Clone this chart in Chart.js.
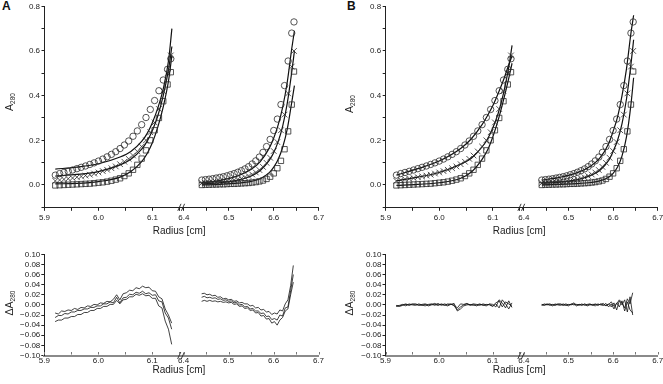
<!DOCTYPE html>
<html>
<head>
<meta charset="utf-8">
<script src="https://cdn.jsdelivr.net/npm/chart.js@4.4.0/dist/chart.umd.min.js"></script>
<style>
  body { margin: 0; background: #fff; width: 663px; height: 384px; position: relative; overflow: hidden; }
  .box { position: absolute; }
  .tag { position: absolute; font: bold 12px "Liberation Sans", Arial, sans-serif; line-height: 12px; color: #111; }
</style>
</head>
<body>
<div class="tag" style="left:2px;top:0px">A</div>
<div class="tag" style="left:347px;top:0px">B</div>
<div class="box" style="left:0;top:0"><canvas id="aTop" width="330" height="238"></canvas></div>
<div class="box" style="left:340px;top:0"><canvas id="bTop" width="333" height="238"></canvas></div>
<div class="box" style="left:0;top:240px"><canvas id="aRes" width="330" height="144"></canvas></div>
<div class="box" style="left:340px;top:240px"><canvas id="bRes" width="333" height="144"></canvas></div>
<script>
const FONT = '"Liberation Sans", Arial, sans-serif';

// scan radii (cm), left and right cell
const rLeft = [5.920, 5.928, 5.936, 5.944, 5.952, 5.960, 5.968, 5.976, 5.984, 5.992, 6.000, 6.008, 6.016, 6.024,
               6.032, 6.040, 6.048, 6.056, 6.064, 6.072, 6.080, 6.088, 6.096, 6.104, 6.112, 6.120, 6.128, 6.134];
const rRight = [6.440, 6.448, 6.456, 6.464, 6.472, 6.480, 6.488, 6.496, 6.504, 6.512, 6.520, 6.528, 6.536, 6.544,
                6.552, 6.560, 6.568, 6.576, 6.584, 6.592, 6.600, 6.608, 6.616, 6.624, 6.632, 6.640, 6.645];

// A280 data (same scans in A and B)
const circLeft  = [0.044, 0.051, 0.056, 0.061, 0.067, 0.073, 0.079, 0.085, 0.092, 0.099, 0.107, 0.116, 0.126, 0.137,
                   0.149, 0.163, 0.179, 0.197, 0.218, 0.242, 0.270, 0.302, 0.338, 0.378, 0.422, 0.470, 0.518, 0.565];
const crossLeft = [0.018, 0.022, 0.025, 0.028, 0.031, 0.035, 0.038, 0.042, 0.046, 0.051, 0.056, 0.062, 0.068, 0.075,
                   0.083, 0.093, 0.104, 0.117, 0.132, 0.150, 0.172, 0.200, 0.236, 0.280, 0.340, 0.420, 0.500, 0.580];
const sqLeft    = [-0.002, -0.001, 0.000, 0.001, 0.002, 0.003, 0.004, 0.005, 0.006, 0.008, 0.010, 0.012, 0.015, 0.019,
                   0.024, 0.030, 0.040, 0.052, 0.068, 0.090, 0.118, 0.155, 0.200, 0.245, 0.300, 0.375, 0.450, 0.505];
const circRight  = [0.022, 0.024, 0.026, 0.028, 0.031, 0.034, 0.037, 0.041, 0.046, 0.051, 0.057, 0.064, 0.072, 0.082,
                    0.094, 0.108, 0.125, 0.146, 0.172, 0.204, 0.244, 0.295, 0.360, 0.445, 0.555, 0.680, 0.730];
const crossRight = [0.008, 0.009, 0.010, 0.011, 0.012, 0.013, 0.015, 0.017, 0.019, 0.022, 0.025, 0.029, 0.034, 0.040,
                    0.047, 0.056, 0.067, 0.081, 0.099, 0.122, 0.152, 0.192, 0.245, 0.315, 0.410, 0.530, 0.600];
const sqRight    = [0.000, 0.001, 0.001, 0.002, 0.002, 0.003, 0.003, 0.004, 0.005, 0.005, 0.006, 0.007, 0.008, 0.009,
                    0.011, 0.013, 0.016, 0.020, 0.027, 0.037, 0.052, 0.075, 0.108, 0.160, 0.240, 0.360, 0.508];

// fitted curves
const fitLeftR  = [5.92, 5.96, 6.00, 6.04, 6.06, 6.08, 6.09, 6.10, 6.11, 6.12, 6.13, 6.136];
const fitRightR = [6.44, 6.48, 6.52, 6.55, 6.57, 6.59, 6.60, 6.61, 6.62, 6.63, 6.64, 6.646];
const aFitCircLeft   = [0.071, 0.080, 0.095, 0.125, 0.150, 0.195, 0.230, 0.280, 0.345, 0.430, 0.560, 0.700];
const aFitCrossLeft  = [0.040, 0.047, 0.060, 0.090, 0.115, 0.160, 0.195, 0.245, 0.310, 0.400, 0.520, 0.620];
const aFitSqLeft     = [0.005, 0.007, 0.015, 0.035, 0.060, 0.105, 0.140, 0.190, 0.260, 0.350, 0.470, 0.580];
const aFitCircRight  = [0.010, 0.020, 0.040, 0.070, 0.105, 0.165, 0.210, 0.270, 0.350, 0.460, 0.610, 0.690];
const aFitCrossRight = [0.005, 0.010, 0.022, 0.040, 0.065, 0.110, 0.145, 0.195, 0.265, 0.365, 0.505, 0.600];
const aFitSqRight    = [0.000, 0.003, 0.008, 0.016, 0.028, 0.055, 0.080, 0.115, 0.170, 0.250, 0.370, 0.445];
const bFitCircLeft   = [0.044, 0.073, 0.107, 0.163, 0.207, 0.270, 0.310, 0.355, 0.410, 0.470, 0.540, 0.578];
const bFitCrossLeft  = [0.018, 0.035, 0.056, 0.093, 0.120, 0.170, 0.205, 0.255, 0.320, 0.410, 0.530, 0.625];
const bFitSqLeft     = [-0.002, 0.003, 0.010, 0.030, 0.058, 0.115, 0.155, 0.215, 0.290, 0.380, 0.480, 0.545];
const bFitCircRight  = [0.022, 0.034, 0.055, 0.085, 0.120, 0.185, 0.240, 0.305, 0.400, 0.520, 0.680, 0.760];
const bFitCrossRight = [0.008, 0.013, 0.024, 0.043, 0.065, 0.110, 0.150, 0.200, 0.275, 0.385, 0.540, 0.650];
const bFitSqRight    = [0.000, 0.003, 0.006, 0.011, 0.018, 0.035, 0.052, 0.080, 0.130, 0.215, 0.360, 0.480];

// residuals
const resLeftR = [5.920, 5.926, 5.932, 5.938, 5.944, 5.950, 5.956, 5.962, 5.968, 5.974, 5.980, 5.986, 5.992,
                  5.998, 6.004, 6.010, 6.016, 6.022, 6.028, 6.034, 6.040, 6.046, 6.052, 6.058, 6.064, 6.070,
                  6.076, 6.082, 6.088, 6.094, 6.100, 6.106, 6.112, 6.118, 6.124, 6.130, 6.136];
const resRightR = [6.440, 6.446, 6.452, 6.458, 6.464, 6.470, 6.476, 6.482, 6.488, 6.494, 6.500, 6.506, 6.512,
                   6.518, 6.524, 6.530, 6.536, 6.542, 6.548, 6.554, 6.560, 6.566, 6.572, 6.578, 6.584, 6.590,
                   6.596, 6.602, 6.608, 6.614, 6.620, 6.626, 6.632, 6.638, 6.644];
const aResLeft1 = [-0.016, -0.018, -0.012, -0.013, -0.010, -0.011, -0.007, -0.009, -0.005, -0.006, -0.002, -0.003, 0.001,
                   0.000, 0.004, 0.003, 0.007, 0.006, 0.011, 0.020, 0.010, 0.022, 0.024, 0.029, 0.028, 0.034,
                   0.032, 0.037, 0.034, 0.035, 0.028, 0.027, 0.016, 0.012, -0.008, -0.020, -0.036];
const aResLeft2 = [-0.025, -0.021, -0.021, -0.017, -0.018, -0.014, -0.014, -0.011, -0.011, -0.008, -0.008, -0.005, -0.005,
                   -0.002, -0.002, 0.002, 0.002, 0.006, 0.004, 0.015, 0.004, 0.014, 0.015, 0.021, 0.020, 0.025,
                   0.023, 0.027, 0.022, 0.024, 0.019, 0.020, 0.008, 0.006, -0.016, -0.026, -0.048];
const aResLeft3 = [-0.033, -0.030, -0.030, -0.026, -0.026, -0.023, -0.023, -0.019, -0.019, -0.015, -0.015, -0.011, -0.011,
                   -0.007, -0.007, -0.003, -0.003, 0.001, 0.001, 0.009, 0.002, 0.010, 0.011, 0.016, 0.016, 0.021,
                   0.019, 0.022, 0.018, 0.019, 0.013, 0.013, -0.002, -0.006, -0.032, -0.048, -0.078];
const aResRight1 = [0.022, 0.023, 0.020, 0.021, 0.018, 0.019, 0.015, 0.016, 0.012, 0.013, 0.010, 0.011, 0.007,
                    0.008, 0.004, 0.005, 0.002, 0.002, -0.002, -0.001, -0.006, -0.005, -0.010, -0.009, -0.014, -0.013,
                    -0.019, -0.016, -0.018, -0.010, -0.012, 0.002, 0.010, 0.038, 0.078];
const aResRight2 = [0.015, 0.017, 0.014, 0.015, 0.013, 0.014, 0.011, 0.012, 0.009, 0.010, 0.007, 0.008, 0.004,
                    0.005, 0.000, 0.001, -0.004, -0.003, -0.008, -0.007, -0.012, -0.012, -0.017, -0.016, -0.023, -0.022,
                    -0.029, -0.027, -0.030, -0.020, -0.022, -0.006, -0.004, 0.028, 0.060];
const aResRight3 = [0.007, 0.009, 0.007, 0.009, 0.007, 0.008, 0.006, 0.007, 0.005, 0.006, 0.004, 0.005, 0.001,
                    0.002, -0.003, -0.002, -0.007, -0.006, -0.011, -0.010, -0.016, -0.015, -0.022, -0.021, -0.028, -0.027,
                    -0.036, -0.033, -0.040, -0.030, -0.025, -0.012, -0.008, 0.020, 0.045];
const bResLeft1 = [-0.002, -0.003, -0.001, 0.001, 0.000, 0.002, 0.001, -0.001, 0.001, 0.002, 0.000, 0.001, 0.003,
                   0.000, 0.001, -0.001, 0.002, 0.001, 0.000, -0.006, 0.002, 0.001, 0.003, 0.000, 0.002, 0.001,
                   -0.001, 0.002, 0.000, 0.001, -0.002, 0.004, 0.008, -0.004, 0.006, 0.002, -0.003];
const bResLeft2 = [-0.003, -0.001, 0.001, -0.002, 0.002, 0.000, -0.001, 0.002, 0.000, -0.002, 0.001, 0.002, -0.001,
                   0.003, -0.001, 0.002, 0.000, 0.002, -0.002, -0.010, -0.004, 0.000, 0.002, -0.001, 0.001, -0.002,
                   0.001, 0.000, -0.002, 0.002, 0.001, -0.004, 0.010, 0.004, -0.006, 0.008, -0.005];
const bResLeft3 = [-0.001, -0.002, 0.000, 0.002, -0.001, 0.001, 0.002, 0.000, -0.001, 0.001, -0.002, 0.000, 0.001,
                   -0.001, 0.002, 0.000, -0.002, 0.001, 0.003, -0.012, -0.008, -0.002, 0.000, 0.001, -0.001, 0.000,
                   0.002, -0.001, 0.001, 0.000, -0.003, 0.002, -0.006, 0.010, 0.002, -0.008, 0.004];
const bResRight1 = [0.001, 0.000, 0.002, -0.001, 0.001, 0.000, 0.002, 0.001, -0.001, 0.002, 0.000, 0.001, 0.004,
                    0.000, 0.001, -0.001, 0.002, 0.000, 0.001, -0.001, 0.002, 0.000, 0.001, 0.003, -0.002, 0.001,
                    0.006, -0.003, 0.002, 0.010, 0.004, -0.006, 0.012, 0.002, 0.024];
const bResRight2 = [-0.001, 0.002, 0.000, 0.001, -0.002, 0.002, 0.000, -0.001, 0.002, 0.000, -0.002, 0.002, 0.000,
                    0.001, -0.001, 0.002, -0.001, 0.001, 0.002, 0.000, -0.002, 0.002, 0.000, -0.001, 0.003, -0.004,
                    0.002, -0.008, 0.004, -0.004, 0.008, -0.012, 0.006, -0.010, -0.016];
const bResRight3 = [0.000, -0.001, 0.001, 0.002, 0.000, -0.001, 0.001, 0.002, 0.000, -0.001, 0.001, 0.000, 0.002,
                    -0.002, 0.001, 0.000, 0.001, -0.002, 0.000, 0.001, 0.001, -0.001, 0.002, 0.000, -0.001, 0.002,
                    -0.004, 0.004, -0.010, 0.008, 0.000, 0.010, -0.014, 0.016, -0.020];

function pts(xs, ys) {
  return xs.map((x, i) => ({x: x, y: ys[i]}));
}

function markers(xs, ys, style, r, axis) {
  return {
    data: pts(xs, ys), xAxisID: axis, showLine: false,
    pointStyle: style, pointRadius: r, pointBorderWidth: 0.8,
    pointBorderColor: '#2a2a2a', pointBackgroundColor: 'rgba(0,0,0,0)'
  };
}

function curve(xs, ys, axis, w, smooth) {
  return {
    data: pts(xs, ys), xAxisID: axis, showLine: true,
    borderColor: '#111', borderWidth: w, pointRadius: 0,
    cubicInterpolationMode: smooth ? 'monotone' : 'default', tension: 0
  };
}

function isTenth(v) {
  return Math.abs(v * 10 - Math.round(v * 10)) < 1e-6;
}

// axis break marks, axis titles, inner ticks of the residual plots
const decor = {
  id: 'decor',
  afterDraw(chart, args, o) {
    const ctx = chart.ctx, area = chart.chartArea;
    const xl = chart.scales.xL, xr = chart.scales.xR;
    const by = area.bottom;
    const bx = (xl.right + xr.left) / 2;
    ctx.save();
    ctx.strokeStyle = '#222';
    ctx.lineWidth = 0.9;
    [-2.2, 1.4].forEach(dx => {
      ctx.beginPath();
      ctx.moveTo(bx + dx - 1.6, by + 3.5);
      ctx.lineTo(bx + dx + 1.6, by - 3.5);
      ctx.stroke();
    });
    if (o.resid) {
      ctx.strokeStyle = '#777';
      ctx.lineWidth = 1;
      [xl, xr].forEach(s => s.ticks.forEach(t => {
        const px = Math.round(s.getPixelForValue(t.value)) + 0.5;
        ctx.beginPath();
        ctx.moveTo(px, by - 1);
        ctx.lineTo(px, by - 3.5);
        ctx.stroke();
      }));
    }
    ctx.fillStyle = '#222';
    ctx.textAlign = 'center';
    ctx.textBaseline = 'alphabetic';
    ctx.font = '10px ' + FONT;
    ctx.fillText('Radius [cm]', (area.left + area.right) / 2 - 2.5, o.titleY);

    ctx.translate(o.yx, o.yy);
    ctx.rotate(-Math.PI / 2);
    ctx.font = '10.5px ' + FONT;
    const w1 = ctx.measureText(o.label).width;
    ctx.font = '6.5px ' + FONT;
    const w2 = ctx.measureText('280').width;
    const x0 = -(w1 + w2) / 2;
    ctx.textAlign = 'left';
    ctx.textBaseline = 'middle';
    ctx.font = '10.5px ' + FONT;
    ctx.fillText(o.label, x0, 0);
    ctx.font = '6.5px ' + FONT;
    ctx.fillText('280', x0 + w1, 3.5);
    ctx.restore();
  }
};

function radiusAxis(min, max, resid, h) {
  return {
    type: 'linear', axis: 'x', position: 'bottom', stack: 'radius', stackWeight: 1,
    min: min, max: max,
    border: {color: resid ? '#8a8a8a' : '#222', width: resid ? 2 : 1},
    grid: {drawOnChartArea: false, drawTicks: !resid, tickLength: 3.5, color: '#222'},
    ticks: {
      stepSize: 0.05, includeBounds: false, autoSkip: false, maxRotation: 0,
      padding: resid ? 0 : 2, color: '#222', font: {size: 8, family: FONT},
      callback: v => isTenth(v) ? v.toFixed(1) : ''
    },
    afterFit: s => { s.height = h; }
  };
}

function absAxis(resid, w) {
  return {
    type: 'linear', position: 'left',
    min: -0.1, max: resid ? 0.1 : 0.8,
    border: {color: '#222', width: 1},
    grid: {drawOnChartArea: false, tickLength: 3, color: '#222'},
    ticks: {
      stepSize: resid ? 0.02 : 0.1, autoSkip: false, padding: resid ? 1 : 1.5,
      color: '#222', font: {size: 8, family: FONT},
      callback: v => {
        if (resid) return (Math.round(v * 100) / 100).toFixed(2).replace('-', '\u2212');
        const k = Math.round(v * 10);
        return (k >= 0 && k % 2 === 0) ? (k / 10).toFixed(1) : '';
      }
    },
    afterFit: s => { s.width = w; }
  };
}

function drawChart(id, o) {
  new Chart(document.getElementById(id), {
    type: 'scatter',
    data: {datasets: o.datasets},
    options: {
      responsive: false,
      animation: false,
      devicePixelRatio: 1,
      layout: {padding: o.padding},
      plugins: {legend: {display: false}, tooltip: {enabled: false}, decor: o.decor},
      scales: {
        xL: radiusAxis(5.9, 6.154, o.resid, o.xh),
        xR: radiusAxis(6.395, 6.7, o.resid, o.xh),
        y: absAxis(o.resid, o.yw)
      }
    },
    plugins: [decor]
  });
}

function dataMarks() {
  return [
    markers(rLeft, circLeft, 'circle', 3.2, 'xL'),
    markers(rLeft, crossLeft, 'crossRot', 4, 'xL'),
    markers(rLeft, sqLeft, 'rect', 3.8, 'xL'),
    markers(rRight, circRight, 'circle', 3.2, 'xR'),
    markers(rRight, crossRight, 'crossRot', 4, 'xR'),
    markers(rRight, sqRight, 'rect', 3.8, 'xR')
  ];
}

drawChart('aTop', {
  padding: {left: 0, top: 0, right: 11.3, bottom: 0}, xh: 30.7, yw: 44.5,
  decor: {titleY: 233.5, yx: 10, yy: 102, label: 'A'},
  datasets: dataMarks().concat([
    curve(fitLeftR, aFitCircLeft, 'xL', 1.2, true),
    curve(fitLeftR, aFitCrossLeft, 'xL', 1.2, true),
    curve(fitLeftR, aFitSqLeft, 'xL', 1.2, true),
    curve(fitRightR, aFitCircRight, 'xR', 1.2, true),
    curve(fitRightR, aFitCrossRight, 'xR', 1.2, true),
    curve(fitRightR, aFitSqRight, 'xR', 1.2, true)
  ])
});

drawChart('bTop', {
  padding: {left: 0, top: 0, right: 15.3, bottom: 0}, xh: 30.7, yw: 45.7,
  decor: {titleY: 233.5, yx: 10, yy: 104, label: 'A'},
  datasets: dataMarks().concat([
    curve(fitLeftR, bFitCircLeft, 'xL', 1.2, true),
    curve(fitLeftR, bFitCrossLeft, 'xL', 1.2, true),
    curve(fitLeftR, bFitSqLeft, 'xL', 1.2, true),
    curve(fitRightR, bFitCircRight, 'xR', 1.2, true),
    curve(fitRightR, bFitCrossRight, 'xR', 1.2, true),
    curve(fitRightR, bFitSqRight, 'xR', 1.2, true)
  ])
});

drawChart('aRes', {
  resid: true, padding: {left: 0, top: 14.3, right: 11.5, bottom: 0}, xh: 28.5, yw: 44.3,
  decor: {resid: true, titleY: 132.5, yx: 10, yy: 63, label: '\u0394A'},
  datasets: [
    curve(resLeftR, aResLeft1, 'xL', 0.8, false),
    curve(resLeftR, aResLeft2, 'xL', 0.8, false),
    curve(resLeftR, aResLeft3, 'xL', 0.8, false),
    curve(resRightR, aResRight1, 'xR', 0.8, false),
    curve(resRightR, aResRight2, 'xR', 0.8, false),
    curve(resRightR, aResRight3, 'xR', 0.8, false)
  ]
});

drawChart('bRes', {
  resid: true, padding: {left: 0, top: 14.3, right: 15.3, bottom: 0}, xh: 28.5, yw: 45.5,
  decor: {resid: true, titleY: 132.5, yx: 10, yy: 63, label: '\u0394A'},
  datasets: [
    curve(resLeftR, bResLeft1, 'xL', 0.8, false),
    curve(resLeftR, bResLeft2, 'xL', 0.8, false),
    curve(resLeftR, bResLeft3, 'xL', 0.8, false),
    curve(resRightR, bResRight1, 'xR', 0.8, false),
    curve(resRightR, bResRight2, 'xR', 0.8, false),
    curve(resRightR, bResRight3, 'xR', 0.8, false)
  ]
});
</script>
</body>
</html>
